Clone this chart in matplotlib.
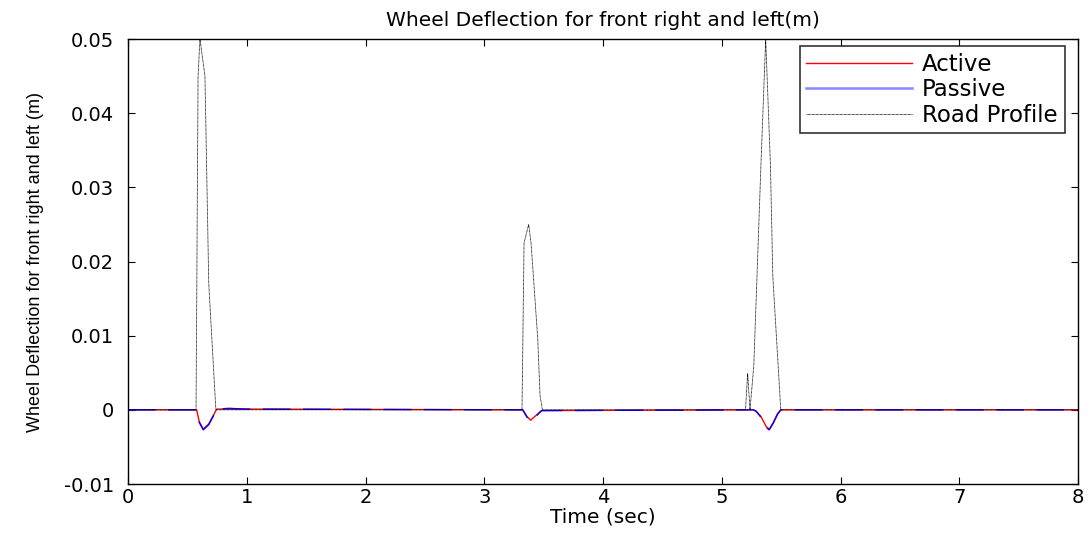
import matplotlib
matplotlib.use('Agg')
import matplotlib.pyplot as plt
from matplotlib.ticker import FormatStrFormatter

# 路面输入 (Road Profile)
road_t = [0, 0.573, 0.59, 0.606, 0.648, 0.68, 0.74,
          3.318, 3.335, 3.374, 3.394, 3.45, 3.47, 3.49,
          5.20, 5.218, 5.238, 5.27, 5.33, 5.37, 5.41, 5.43, 5.497, 8]
road_y = [0, 0, 0.045, 0.050, 0.045, 0.017, 0,
          0, 0.0225, 0.025, 0.0225, 0.0097, 0.0019, 0,
          0, 0.0049, 0, 0.006, 0.033, 0.050, 0.033, 0.018, 0, 0]

# 被动悬架 (Passive)
passive_t = [0, 0.578, 0.60, 0.634, 0.68, 0.72, 0.747, 0.85, 1.0,
             3.324, 3.36, 3.39, 3.44, 3.483,
             5.266, 5.29, 5.33, 5.376, 5.40, 5.434, 5.47, 5.497, 8]
passive_y = [0, 0, -0.0017, -0.0027, -0.0020, -0.0008, 0.0001, 0.0002, 0.0001,
             0, -0.0010, -0.0015, -0.0008, -0.0001,
             0, -0.0002, -0.0010, -0.0024, -0.0027, -0.0018, -0.0006, 0, 0]

# 主动悬架 (Active)
active_t = [0, 0.578, 0.60, 0.634, 0.68, 0.72, 0.747, 0.85, 1.0,
            3.324, 3.36, 3.39, 3.44, 3.483,
            5.266, 5.29, 5.33, 5.376, 5.40, 5.434, 5.47, 5.497, 8]
active_y = [0, 0, -0.0016, -0.0026, -0.0019, -0.0007, 0.0001, 0.0001, 0.0001,
            0, -0.0009, -0.0014, -0.0007, -0.0001,
            0, -0.0002, -0.0009, -0.0023, -0.0026, -0.0017, -0.0005, 0, 0]

x_ticks = [0, 1, 2, 3, 4, 5, 6, 7, 8]
y_ticks = [-0.01, 0, 0.01, 0.02, 0.03, 0.04, 0.05]

plt.rcParams['font.family'] = ['DejaVu Sans']

fig = plt.figure(figsize=(10.91, 5.36), dpi=100)
ax = fig.add_axes([128 / 1091, 1 - 484 / 536, 950 / 1091, 445 / 536])

ax.plot(active_t, active_y, color='red', linewidth=1.0, label='Active')
ax.plot(passive_t, passive_y, color='blue', linewidth=1.0,
        linestyle=(0, (20, 9)), label='Passive')
ax.plot(road_t, road_y, color='black', linewidth=0.6,
        linestyle=(0, (1, 0.6)), label='Road Profile')

ax.set_xlim(0, 8)
ax.set_ylim(-0.01, 0.05)
ax.set_xticks(x_ticks)
ax.set_yticks(y_ticks)
ax.yaxis.set_major_formatter(FormatStrFormatter('%g'))
ax.tick_params(direction='in', top=True, right=True, length=5,
               labelsize=14, width=0.8)
ax.tick_params(axis='y', pad=10)
ax.tick_params(axis='x', pad=3)
for s in ax.spines.values():
    s.set_linewidth(1.0)

ax.set_xlabel('Time (sec)', fontsize=14.5, labelpad=0)
ax.set_ylabel('Wheel Deflection for front right and left (m)', fontsize=13,
              family=['Liberation Sans Narrow', 'Liberation Sans'], labelpad=14)
ax.set_title('Wheel Deflection for front right and left(m)', fontsize=14.5, pad=9)

leg = ax.legend(loc='upper right', bbox_to_anchor=(0.986, 0.984), fontsize=16.5,
                frameon=True, fancybox=False, edgecolor='black',
                handlelength=4.6, handletextpad=0.45, labelspacing=0.1,
                borderaxespad=0, borderpad=0.3)
leg.get_frame().set_linewidth(1.2)
leg.get_lines()[1].set_linestyle('-')
leg.get_lines()[1].set_color('#8888ff')
leg.get_lines()[1].set_linewidth(1.8)

fig.savefig('out.png', dpi=100)
